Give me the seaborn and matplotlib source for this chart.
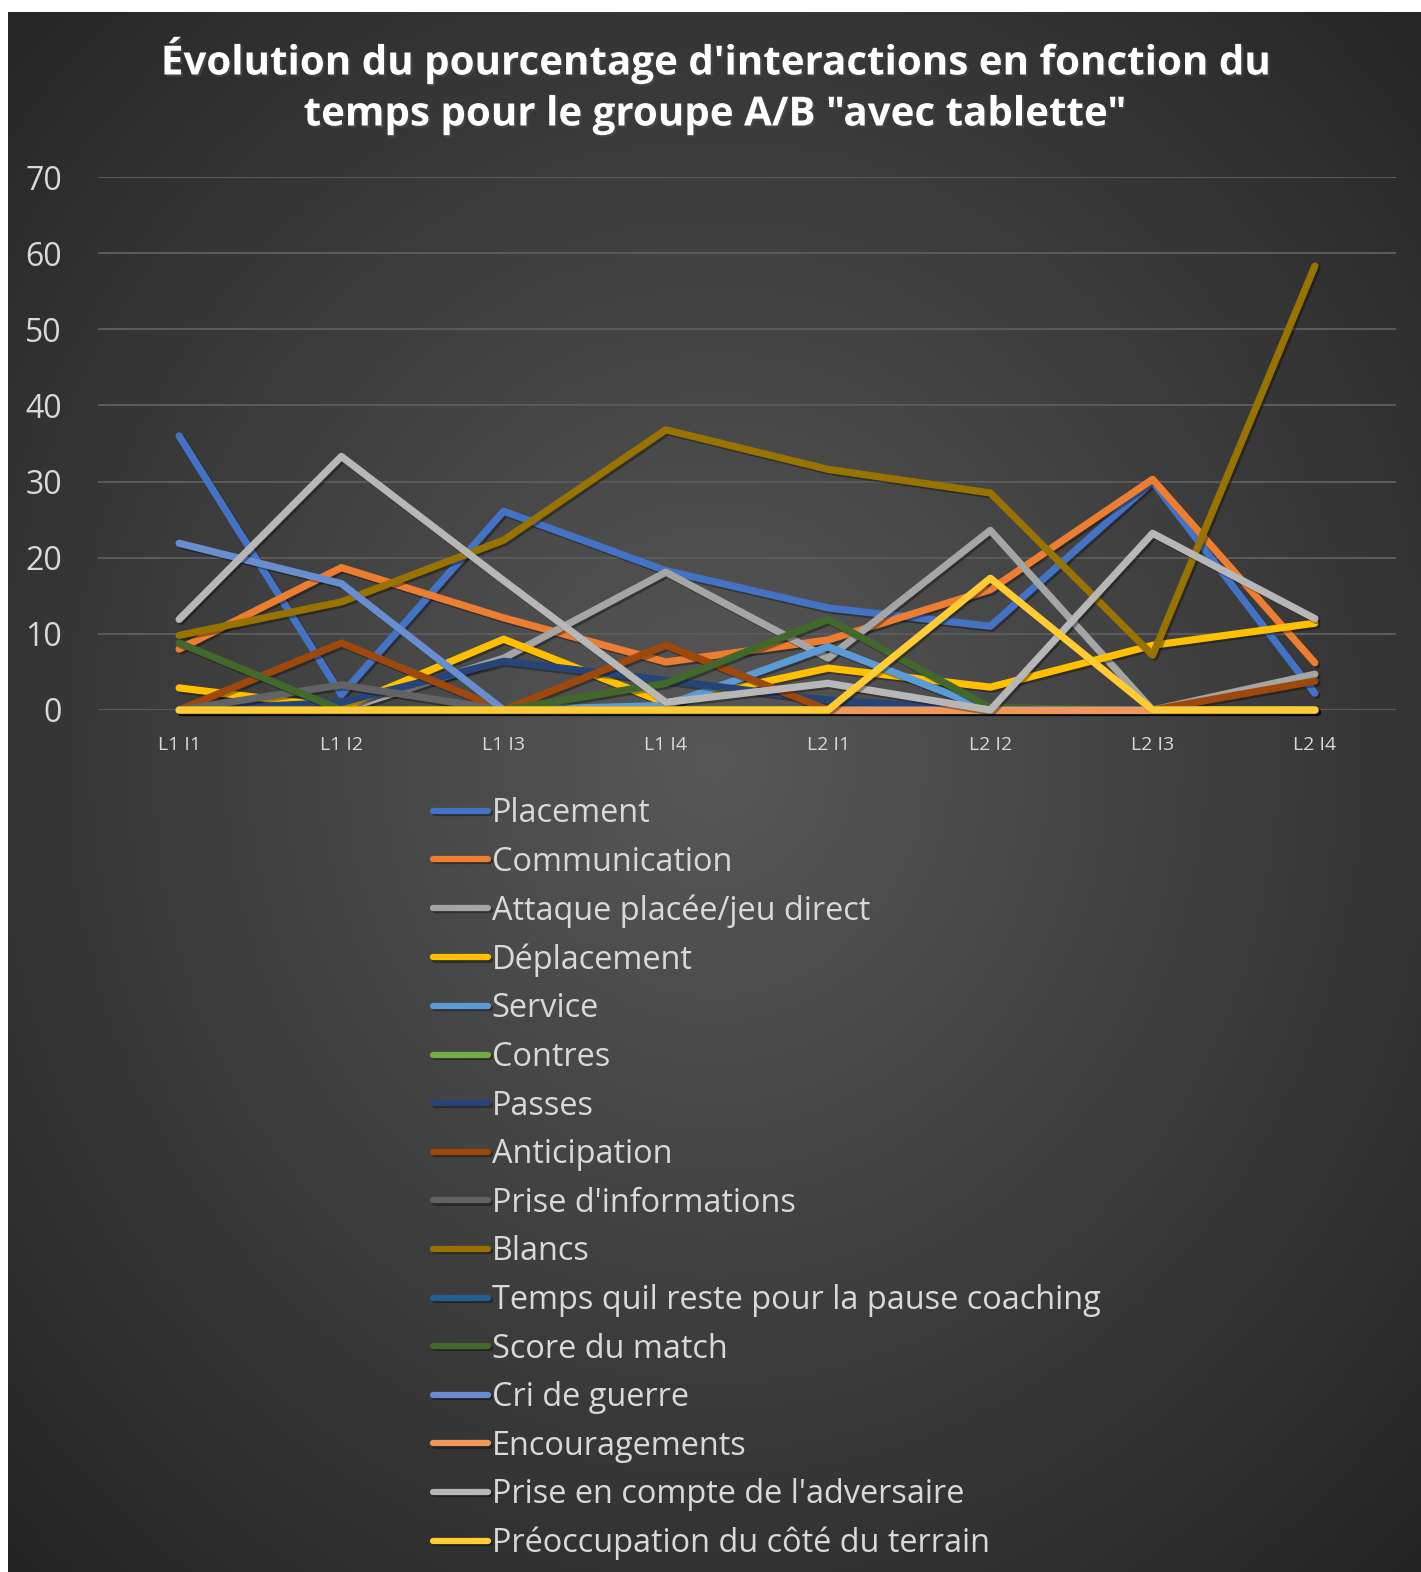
import numpy as np
import pandas as pd
import matplotlib
matplotlib.use("Agg")
import matplotlib.pyplot as plt
import matplotlib.patheffects as pe
import seaborn as sns

# Catégories (temps) et séries
categories = ["L1 I1", "L1 I2", "L1 I3", "L1 I4", "L2 I1", "L2 I2", "L2 I3", "L2 I4"]

placement = [36, 2.0, 26.1, 18.3, 13.4, 11.0, 30.0, 2.2]
communication = [8.0, 18.7, 12.1, 6.3, 9.2, 15.8, 30.3, 6.2]
attaque = [0, 0, 6.8, 18.1, 6.8, 23.6, 0, 4.7]
deplacement = [2.9, 0.3, 9.3, 0.9, 5.5, 3.0, 8.5, 11.4]
service = [0, 0, 0, 0.6, 8.3, 0, 0, 0]
contres = [0, 0, 0, 0, 0, 0, 0, 0]
passes = [0, 1.0, 6.4, 3.9, 1.3, 0, 0, 0]
anticipation = [0, 8.8, 0, 8.5, 0, 0, 0, 3.8]
prise_info = [0, 3.3, 0, 0, 0, 0, 0, 0]
blancs = [9.8, 14.2, 22.3, 36.8, 31.6, 28.5, 7.2, 58.3]
temps_pause = [0, 0, 0, 0, 0, 0, 0, 0]
score = [8.8, 0, 0, 3.5, 11.9, 0.3, 0, 0]
cri_guerre = [21.9, 16.6, 0, 0, 0, 0, 0, 0]
encouragements = [0, 0, 0, 0, 0, 0, 0, 0]
prise_adv = [11.9, 33.3, 17.0, 1.0, 3.5, 0, 23.2, 12.0]
preoccupation = [0, 0, 0, 0, 0, 17.3, 0, 0]

series = {
    "Placement": placement,
    "Communication": communication,
    "Attaque placée/jeu direct": attaque,
    "Déplacement": deplacement,
    "Service": service,
    "Contres": contres,
    "Passes": passes,
    "Anticipation": anticipation,
    "Prise d'informations": prise_info,
    "Blancs": blancs,
    "Temps quil reste pour la pause coaching": temps_pause,
    "Score du match": score,
    "Cri de guerre": cri_guerre,
    "Encouragements": encouragements,
    "Prise en compte de l'adversaire": prise_adv,
    "Préoccupation du côté du terrain": preoccupation,
}
couleurs = ["#4472C4", "#ED7D31", "#A5A5A5", "#FFC000", "#5B9BD5", "#70AD47",
            "#264478", "#9E480E", "#636363", "#997300", "#255E91", "#43682B",
            "#698ED0", "#F1975A", "#B7B7B7", "#FFCD33"]

noms = list(series.keys())
df = pd.DataFrame([
    {"serie": nom, "pos": i, "valeur": v}
    for nom, vals in series.items() for i, v in enumerate(vals)
])

W, H = 1421, 1572
fig = plt.figure(figsize=(W / 100, H / 100), dpi=100, facecolor="white")

# Fond en dégradé radial
bg = fig.add_axes([8 / W, 0, (W - 8) / W, (H - 12) / H])
bg.set_axis_off()
yy, xx = np.mgrid[0:1:400j, 0:1:400j]
r = np.sqrt((xx - 0.5) ** 2 + (yy - 0.52) ** 2) / 0.72
r = np.clip(r, 0, 1)
c0 = np.array([0x58, 0x58, 0x58]) / 255
c1 = np.array([0x24, 0x24, 0x24]) / 255
img = c0[None, None, :] * (1 - r[..., None]) + c1[None, None, :] * r[..., None]
bg.imshow(img, aspect="auto", extent=[0, 1, 0, 1], origin="lower")

ax = fig.add_axes([98 / W, 1 - 710 / H, (1396 - 98) / W, (710 - 177) / H])
ax.patch.set_alpha(0)

sns.lineplot(data=df, x="pos", y="valeur", hue="serie", hue_order=noms,
             palette=couleurs, linewidth=5.2, sort=False, ax=ax, legend=True)

for ln in ax.lines:
    ln.set_solid_capstyle("round")
    ln.set_solid_joinstyle("round")
    ln.set_clip_on(False)
    ln.set_path_effects([pe.SimpleLineShadow(offset=(1.5, -1.5), alpha=0.35, shadow_color="black"),
                         pe.Normal()])

ax.set_xlim(-0.5, len(categories) - 0.5)
ax.set_ylim(0, 70)
ax.set_yticks(range(0, 71, 10))
ax.set_xticks(range(len(categories)))
ax.set_xticklabels(categories)
ax.tick_params(axis="y", length=0, pad=26, labelsize=23, labelcolor="#D9D9D9")
ax.tick_params(axis="x", length=0, pad=19, labelsize=14, labelcolor="#D9D9D9")
for lab in ax.get_yticklabels() + ax.get_xticklabels():
    lab.set_fontfamily("Open Sans")
ax.grid(axis="y", color="#5A5A5A", linewidth=1.5)
ax.grid(axis="x", visible=False)
ax.set_axisbelow(True)
for s in ax.spines.values():
    s.set_visible(False)
ax.set_xlabel("")
ax.set_ylabel("")

handles, labels = ax.get_legend_handles_labels()
leg = ax.legend(handles, labels, loc="upper left",
                bbox_to_anchor=(433 / W, 1 - 797 / H), bbox_transform=fig.transFigure,
                frameon=False, handlelength=1.7, handletextpad=0.1,
                labelspacing=0.48, borderpad=0, borderaxespad=0,
                prop={"family": "Open Sans", "size": 23.4})
for t in leg.get_texts():
    t.set_color("#D9D9D9")
for h in leg.get_lines():
    h.set_linewidth(4.5)
    h.set_solid_capstyle("round")

fig.text(714 / W, 1 - 86 / H,
         "Évolution du pourcentage d'interactions en fonction du\ntemps pour le groupe A/B \"avec tablette\"",
         ha="center", va="center", color="white", fontsize=29, fontweight="bold",
         family="Open Sans", linespacing=1.4,
         path_effects=[pe.withSimplePatchShadow(offset=(1.5, -1.5), alpha=0.6)])

fig.savefig("out.png", dpi=100, facecolor="white")
